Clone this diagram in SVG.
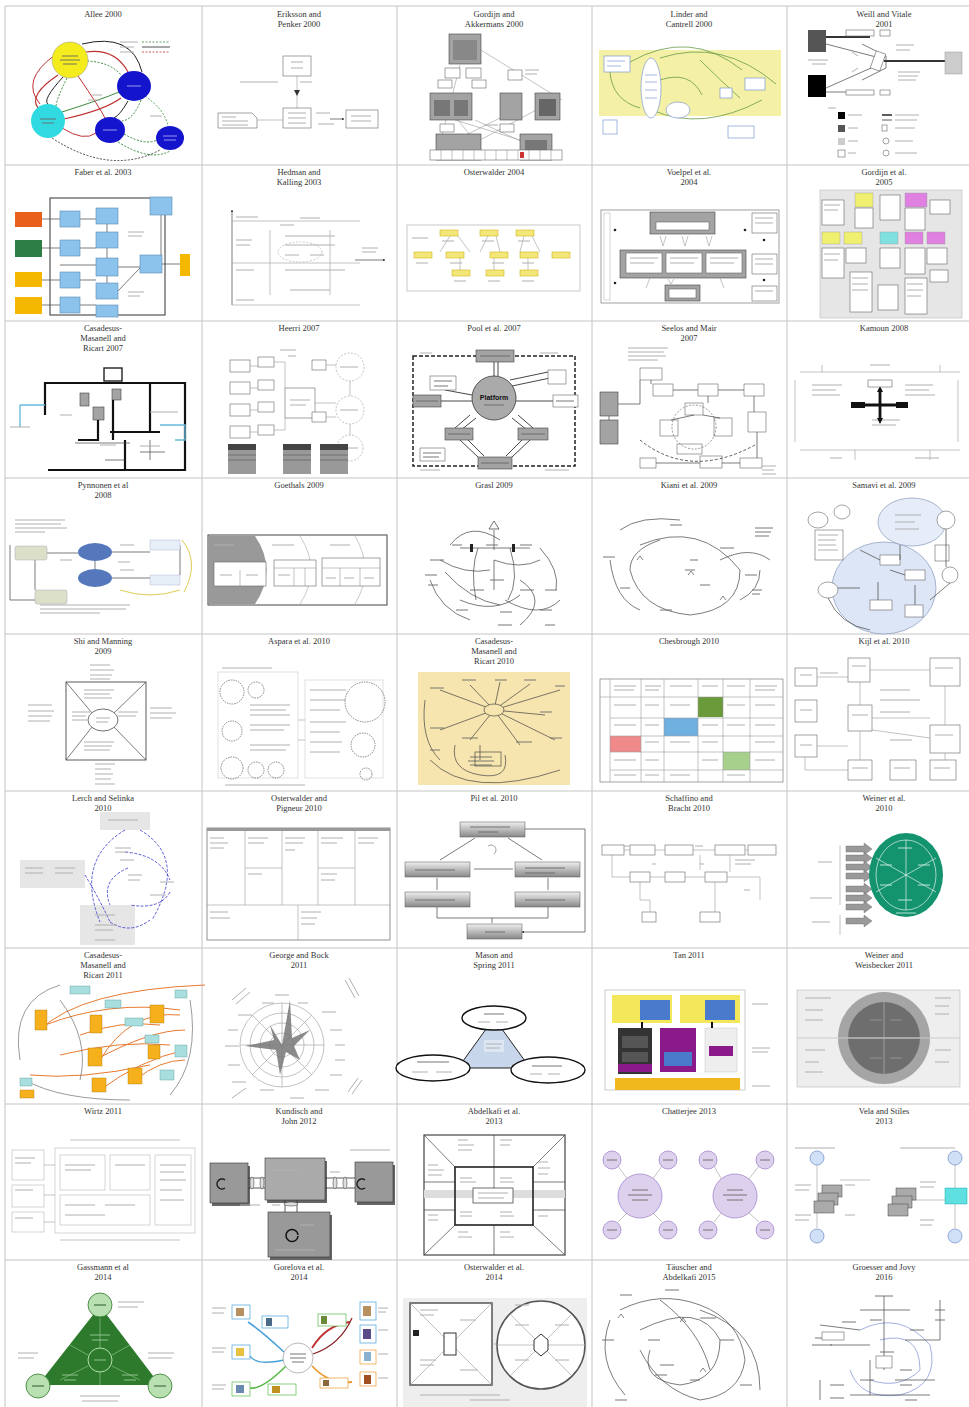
<svg xmlns="http://www.w3.org/2000/svg" width="969" height="1407" viewBox="0 0 969 1407">
<style>
.grid{stroke:#c4c4c4;stroke-width:1;fill:none}
.cap{font-family:"Liberation Serif",serif;font-size:8.5px;fill:#333;text-anchor:middle}
.ln{fill:none;stroke:#444;stroke-width:0.7}
.lt{fill:none;stroke:#9a9a9a;stroke-width:0.6}
.tk{fill:none;stroke:#111;stroke-width:2.2}
.bx{fill:#fff;stroke:#666;stroke-width:0.6}
.gb{fill:#a3a3a3;stroke:#444;stroke-width:0.6}
.s{fill:none;stroke:#b0b0b0;stroke-width:1}
.sd{fill:none;stroke:#666;stroke-width:0.9}
.dsh{stroke-dasharray:2 1.5}
</style>
<defs>
<marker id="a" markerWidth="4" markerHeight="4" refX="3.5" refY="2" orient="auto"><path d="M0 0 L4 2 L0 4z" fill="#333"/></marker>
<linearGradient id="gg" x1="0" y1="0" x2="0" y2="1"><stop offset="0" stop-color="#eee"/><stop offset="1" stop-color="#888"/></linearGradient>
</defs>
<rect width="969" height="1407" fill="#fff"/>

<g id="grid">
<path class="grid" d="M5 6 H969 M5 165 H969 M5 321 H969 M5 478 H969 M5 634 H969 M5 791 H969 M5 948 H969 M5 1104 H969 M5 1260 H969 M5 6 V1407 M202 6 V1407 M397 6 V1407 M592 6 V1407 M787 6 V1407"/>
</g>

<g id="captions">
<text class="cap" x="103" y="17">Allee 2000</text>
<text class="cap" x="299" y="17">Eriksson and</text><text class="cap" x="299" y="27">Penker 2000</text>
<text class="cap" x="494" y="17">Gordijn and</text><text class="cap" x="494" y="27">Akkermans 2000</text>
<text class="cap" x="689" y="17">Linder and</text><text class="cap" x="689" y="27">Cantrell 2000</text>
<text class="cap" x="884" y="17">Weill and Vitale</text><text class="cap" x="884" y="27">2001</text>

<text class="cap" x="103" y="175">Faber et al. 2003</text>
<text class="cap" x="299" y="175">Hedman and</text><text class="cap" x="299" y="185">Kalling 2003</text>
<text class="cap" x="494" y="175">Osterwalder 2004</text>
<text class="cap" x="689" y="175">Voelpel et al.</text><text class="cap" x="689" y="185">2004</text>
<text class="cap" x="884" y="175">Gordijn et al.</text><text class="cap" x="884" y="185">2005</text>

<text class="cap" x="103" y="331">Casadesus-</text><text class="cap" x="103" y="341">Masanell and</text><text class="cap" x="103" y="351">Ricart 2007</text>
<text class="cap" x="299" y="331">Heerri 2007</text>
<text class="cap" x="494" y="331">Pool et al. 2007</text>
<text class="cap" x="689" y="331">Seelos and Mair</text><text class="cap" x="689" y="341">2007</text>
<text class="cap" x="884" y="331">Kamoun 2008</text>

<text class="cap" x="103" y="488">Pynnonen et al</text><text class="cap" x="103" y="498">2008</text>
<text class="cap" x="299" y="488">Goethals 2009</text>
<text class="cap" x="494" y="488">Grasl 2009</text>
<text class="cap" x="689" y="488">Kiani et al. 2009</text>
<text class="cap" x="884" y="488">Samavi et al. 2009</text>

<text class="cap" x="103" y="644">Shi and Manning</text><text class="cap" x="103" y="654">2009</text>
<text class="cap" x="299" y="644">Aspara et al. 2010</text>
<text class="cap" x="494" y="644">Casadesus-</text><text class="cap" x="494" y="654">Masanell and</text><text class="cap" x="494" y="664">Ricart 2010</text>
<text class="cap" x="689" y="644">Chesbrough 2010</text>
<text class="cap" x="884" y="644">Kijl et al. 2010</text>

<text class="cap" x="103" y="801">Lerch and Selinka</text><text class="cap" x="103" y="811">2010</text>
<text class="cap" x="299" y="801">Osterwalder and</text><text class="cap" x="299" y="811">Pigneur 2010</text>
<text class="cap" x="494" y="801">Pil et al. 2010</text>
<text class="cap" x="689" y="801">Schaffino and</text><text class="cap" x="689" y="811">Bracht 2010</text>
<text class="cap" x="884" y="801">Weiner et al.</text><text class="cap" x="884" y="811">2010</text>

<text class="cap" x="103" y="958">Casadesus-</text><text class="cap" x="103" y="968">Masanell and</text><text class="cap" x="103" y="978">Ricart 2011</text>
<text class="cap" x="299" y="958">George and Bock</text><text class="cap" x="299" y="968">2011</text>
<text class="cap" x="494" y="958">Mason and</text><text class="cap" x="494" y="968">Spring 2011</text>
<text class="cap" x="689" y="958">Tan 2011</text>
<text class="cap" x="884" y="958">Weiner and</text><text class="cap" x="884" y="968">Weisbecker 2011</text>

<text class="cap" x="103" y="1114">Wirtz 2011</text>
<text class="cap" x="299" y="1114">Kundisch and</text><text class="cap" x="299" y="1124">John 2012</text>
<text class="cap" x="494" y="1114">Abdelkafi et al.</text><text class="cap" x="494" y="1124">2013</text>
<text class="cap" x="689" y="1114">Chatterjee 2013</text>
<text class="cap" x="884" y="1114">Vela and Stiles</text><text class="cap" x="884" y="1124">2013</text>

<text class="cap" x="103" y="1270">Gassmann et al</text><text class="cap" x="103" y="1280">2014</text>
<text class="cap" x="299" y="1270">Gorelova et al.</text><text class="cap" x="299" y="1280">2014</text>
<text class="cap" x="494" y="1270">Osterwalder et al.</text><text class="cap" x="494" y="1280">2014</text>
<text class="cap" x="689" y="1270">Täuscher and</text><text class="cap" x="689" y="1280">Abdelkafi 2015</text>
<text class="cap" x="884" y="1270">Groesser and Jovy</text><text class="cap" x="884" y="1280">2016</text>
</g>

<!-- Row 0 -->
<g id="allee">
<path d="M58 75 Q28 95 38 108" fill="none" stroke="#c03030" stroke-width="1.2"/>
<path d="M63 77 Q42 100 48 104" fill="none" stroke="#222" stroke-width="1"/>
<path d="M67 78 Q57 98 56 106" fill="none" stroke="#3a8a3a" stroke-width="1" class="dsh"/>
<path d="M86 52 Q115 48 128 72" fill="none" stroke="#c03030" stroke-width="1.2"/>
<path d="M87 61 Q110 62 121 75" fill="none" stroke="#3a8a3a" stroke-width="1" class="dsh"/>
<path d="M82 44 Q132 32 142 72" fill="none" stroke="#222" stroke-width="1"/>
<path d="M62 112 Q100 100 119 92" fill="none" stroke="#3a8a3a" stroke-width="1"/>
<path d="M64 119 Q105 110 121 98" fill="none" stroke="#c03030" stroke-width="1.2"/>
<path d="M62 128 Q84 142 96 133" fill="none" stroke="#c03030" stroke-width="1"/>
<path d="M128 101 Q120 115 114 118" fill="none" stroke="#222" stroke-width="1"/>
<path d="M141 100 Q133 120 122 121" fill="none" stroke="#3a8a3a" stroke-width="1" class="dsh"/>
<path d="M124 134 Q145 146 157 140" fill="none" stroke="#3a8a3a" stroke-width="1" class="dsh"/>
<path d="M118 142 Q150 162 170 151" fill="none" stroke="#3a8a3a" stroke-width="1" class="dsh"/>
<path d="M78 76 Q100 108 105 118" fill="none" stroke="#c03030" stroke-width="1"/>
<path d="M52 138 Q110 176 160 150" fill="none" stroke="#222" stroke-width="0.8" class="dsh"/>
<path d="M145 96 Q165 110 168 126" fill="none" stroke="#3a8a3a" stroke-width="0.8" class="dsh"/>
<path d="M40 104 Q20 80 55 55" fill="none" stroke="#c03030" stroke-width="1"/>
<path class="s" d="M120 42 h18 M120 47 h14 M120 52 h14 M92 95 h10 M88 100 h12 M150 116 h12"/>
<path d="M142 42 h28" stroke="#3a8a3a" stroke-width="0.8" class="dsh"/>
<path d="M142 47 h28" stroke="#222" stroke-width="0.8"/>
<path d="M142 52 h28" stroke="#c03030" stroke-width="0.8" class="dsh"/>
<circle cx="70" cy="60" r="18" fill="#f4ec1c" stroke="#999" stroke-width="0.5"/>
<ellipse cx="134" cy="86" rx="17" ry="15" fill="#1414cc"/>
<circle cx="48" cy="121" r="17" fill="#30dae0"/>
<ellipse cx="110" cy="130" rx="15" ry="13" fill="#1414cc"/>
<ellipse cx="170" cy="138" rx="14" ry="12" fill="#1414cc"/>
<path class="sd" d="M62 56 h16 M60 60 h20 M63 64 h14 M40 119 h16 M42 123 h12"/>
<path d="M127 86 h14 M103 130 h14 M163 136 h14 M164 140 h12" stroke="#9999ee" stroke-width="1"/>
</g>

<g id="eriksson">
<rect class="bx" x="283" y="56" width="28" height="20"/>
<path class="s" d="M291 62 h12 M291 68 h12"/>
<path class="lt" d="M297 76 V108"/>
<path class="s" d="M240 82 h38 M300 82 h12"/>
<path d="M294 90 l3 6 l3 -6z" fill="#333"/>
<rect class="bx" x="283" y="108" width="28" height="20"/>
<path class="s" d="M288 113 h18 M288 118 h18 M288 123 h18"/>
<path class="bx" d="M218 113 H252 L257 118 V128 H218 Z"/>
<path class="s" d="M222 117 h14 M222 121 h26 M222 125 h26"/>
<path class="lt" d="M257 120 H283"/>
<rect class="bx" x="346" y="110" width="32" height="18"/>
<path class="s" d="M351 116 h20 M351 121 h20"/>
<path class="ln" d="M330 119 H344" marker-end="url(#a)"/>
<path class="s" d="M316 113 h14 M318 124 h16"/>
</g>

<g id="gordijn2000">
<path class="lt" d="M481 50 L562 100 M460 65 L442 135 M475 120 L540 150 M458 120 L470 135 M540 108 L480 140 M455 120 L520 140 M520 108 L460 138"/>
<rect class="gb" x="449" y="34" width="32" height="30"/>
<rect x="453" y="40" width="24" height="20" fill="#888"/>
<rect class="bx" x="445" y="68" width="15" height="10" stroke="#4a4"/>
<rect class="bx" x="466" y="68" width="15" height="10" stroke="#4a4"/>
<rect class="bx" x="438" y="80" width="14" height="8" stroke="#4a4"/>
<rect class="bx" x="472" y="80" width="14" height="8" stroke="#4a4"/>
<rect class="bx" x="508" y="70" width="14" height="10" stroke="#4a4"/>
<rect class="gb" x="430" y="93" width="42" height="27"/>
<rect x="434" y="100" width="16" height="16" fill="#777"/><rect x="454" y="100" width="14" height="16" fill="#777"/>
<rect class="gb" x="500" y="93" width="22" height="27" fill="#ddd"/>
<rect class="gb" x="535" y="93" width="25" height="27"/>
<rect x="539" y="99" width="17" height="17" fill="#666"/>
<rect class="bx" x="500" y="124" width="14" height="8" stroke="#4a4"/>
<rect class="bx" x="440" y="124" width="14" height="8" stroke="#4a4"/>
<rect class="gb" x="436" y="134" width="45" height="26"/>
<rect class="gb" x="520" y="134" width="32" height="26"/>
<rect x="525" y="140" width="22" height="16" fill="#777"/>
<rect class="bx" x="430" y="150" width="132" height="10"/>
<path class="lt" d="M441 150 V160 M452 150 V160 M463 150 V160 M474 150 V160 M485 150 V160 M496 150 V160 M507 150 V160 M518 150 V160 M529 150 V160 M540 150 V160 M551 150 V160"/>
<rect x="520" y="152" width="4" height="6" fill="#c33"/>
<path class="s" d="M525 70 h14 M525 74 h12 M484 125 h14"/>
</g>

<g id="linder">
<rect x="599" y="50" width="182" height="66" fill="#f4f0a6"/>
<path d="M630 62 Q690 28 742 70 M660 58 Q722 38 776 84 M652 110 Q702 132 762 100 M660 80 Q690 70 702 95 M610 72 Q612 100 640 108 M700 60 Q720 80 740 98" fill="none" stroke="#6a9a4a" stroke-width="0.8"/>
<rect x="604" y="56" width="26" height="16" fill="#fff" stroke="#6a8ad0" stroke-width="0.6"/>
<ellipse cx="651" cy="88" rx="10" ry="30" fill="#fff" stroke="#6a8ad0" stroke-width="0.6"/>
<ellipse cx="678" cy="110" rx="12" ry="8" fill="#fff" stroke="#6a8ad0" stroke-width="0.6"/>
<rect x="720" y="88" width="12" height="10" fill="#fff" stroke="#6a8ad0" stroke-width="0.6"/>
<rect x="745" y="78" width="20" height="12" fill="#fff" stroke="#6a8ad0" stroke-width="0.6"/>
<rect x="728" y="126" width="26" height="12" fill="#fff" stroke="#6a8ad0" stroke-width="0.6"/>
<rect x="603" y="120" width="14" height="14" fill="#fff" stroke="#6a8ad0" stroke-width="0.6"/>
<path d="M645 75 h12 M645 82 h12 M645 90 h12 M645 98 h12 M607 61 h18 M607 66 h14" stroke="#8aa6dc" stroke-width="0.8"/>
</g>

<g id="weill">
<path d="M826 37 H870" stroke="#333" stroke-width="2"/>
<path class="ln" d="M826 44 L880 58 M826 88 L880 64 M826 92 H870"/>
<path d="M884 61 H945" stroke="#333" stroke-width="2.2"/>
<path class="ln" d="M862 44 L886 56 L886 68 L862 80"/>
<rect class="bx" x="873" y="52" width="10" height="18" transform="rotate(20 878 61)"/>
<rect class="bx" x="846" y="30" width="28" height="6"/><rect class="bx" x="880" y="30" width="10" height="6"/>
<rect class="bx" x="846" y="90" width="28" height="5"/><rect class="bx" x="880" y="90" width="10" height="5"/>
<rect x="808" y="30" width="18" height="22" fill="#555"/>
<rect x="808" y="75" width="18" height="22" fill="#000"/>
<rect x="945" y="52" width="17" height="22" fill="#ccc" stroke="#999" stroke-width="0.5"/>
<path class="s" d="M808 60 h20 M812 64 h14 M896 45 h18 M896 50 h14 M898 72 h22 M898 76 h20 M898 80 h18 M852 52 l6 4 M852 72 l6 -4"/>
<path class="s" d="M828 108 h8"/>
<rect x="838" y="112" width="7" height="7" fill="#000"/>
<rect x="838" y="125" width="7" height="7" fill="#555"/>
<rect x="838" y="138" width="7" height="7" fill="#ccc"/>
<rect class="bx" x="838" y="150" width="7" height="7"/>
<path class="s" d="M848 115 h14 M848 128 h10 M848 141 h10 M848 153 h8"/>
<path d="M882 115 h10" stroke="#333" stroke-width="1.6"/><path d="M882 120 h10" stroke="#333" stroke-width="0.8"/>
<path class="s" d="M895 115 h24 M895 120 h22 M895 128 h20 M895 141 h18 M895 153 h22"/>
<rect class="bx" x="882" y="125" width="5" height="6"/><circle class="bx" cx="886" cy="141" r="3"/><circle class="bx" cx="886" cy="153" r="3"/>
</g>

<!-- Row 1 -->
<g id="faber">
<rect x="50" y="198" width="115" height="117" fill="none" stroke="#333" stroke-width="1"/>
<path class="ln" d="M42 219 H60 M42 248 H60 M42 280 H60 M42 305 H60 M80 219 H96 M80 248 H96 M80 280 H96 M80 305 H96 M107 224 V232 M107 248 V258 M107 276 V283 M118 267 H140 M118 291 L140 268 M162 264 H180 M161 215 V255 M60 265 H96"/>
<rect x="15" y="212" width="27" height="15" fill="#e8601c"/>
<rect x="15" y="240" width="27" height="17" fill="#2d7d46"/>
<rect x="15" y="272" width="27" height="15" fill="#f5b800"/>
<rect x="15" y="297" width="27" height="17" fill="#f5b800"/>
<g fill="#8cc3ec" stroke="#5a8ab0" stroke-width="0.6">
<rect x="60" y="211" width="20" height="16"/><rect x="60" y="240" width="20" height="16"/><rect x="60" y="272" width="20" height="16"/><rect x="60" y="297" width="20" height="16"/>
<rect x="96" y="208" width="22" height="16"/><rect x="96" y="232" width="22" height="16"/><rect x="96" y="258" width="22" height="18"/><rect x="96" y="283" width="22" height="16"/><rect x="96" y="305" width="22" height="12"/>
<rect x="140" y="255" width="22" height="18"/><rect x="150" y="197" width="22" height="18"/>
</g>
<rect x="180" y="254" width="10" height="22" fill="#f5b800"/>
<path class="s" d="M128 232 h16 M128 236 h14 M128 292 h16 M128 296 h12"/>
</g>

<g id="hedman">
<path class="ln" d="M232 305 V210" marker-end="url(#a)"/>
<path class="lt" d="M232 221 H360 M232 263 H360 M232 305 H360 M270 230 V295 M330 230 V295"/>
<path class="s" d="M236 217 h22 M236 240 h16 M236 245 h14 M236 270 h18 M236 300 h18 M280 225 h14 M300 218 h20 M285 236 h50 M285 245 h50 M285 255 h14 M310 255 h14 M285 270 h60 M290 290 h40"/>
<ellipse cx="300" cy="252" rx="22" ry="10" fill="none" stroke="#aaa" stroke-width="0.6" class="dsh"/>
<path class="ln" d="M355 260 H385" marker-end="url(#a)"/>
<path class="s" d="M362 248 h16 M362 252 h14"/>
</g>

<g id="osterwalder2004">
<rect x="407" y="225" width="173" height="66" fill="none" stroke="#bbb" stroke-width="0.8"/>
<path class="lt" d="M440 252 L450 236 M470 252 L458 236 M480 252 L488 236 M500 252 L496 236 M520 252 L524 236 M540 252 L532 236 M460 258 V270 M494 258 V270 M528 258 V270"/>
<g fill="#f3e77a" stroke="#c9a800" stroke-width="0.5">
<rect x="440" y="230" width="18" height="6"/><rect x="480" y="230" width="18" height="6"/><rect x="516" y="230" width="18" height="6"/>
<rect x="414" y="252" width="18" height="6"/><rect x="446" y="252" width="18" height="6"/><rect x="490" y="252" width="18" height="6"/><rect x="520" y="252" width="18" height="6"/><rect x="552" y="252" width="18" height="6"/>
<rect x="452" y="270" width="18" height="6"/><rect x="486" y="270" width="18" height="6"/><rect x="520" y="270" width="18" height="6"/>
</g>
<path class="s" d="M442 241 h12 M482 241 h12 M518 241 h12 M416 263 h12 M450 263 h12 M492 263 h12 M522 263 h12 M454 281 h12 M488 281 h12 M522 281 h12 M412 238 h16"/>
</g>

<g id="voelpel">
<rect x="601" y="210" width="178" height="93" fill="none" stroke="#888" stroke-width="0.8"/>
<rect x="604" y="213" width="6" height="87" fill="none" stroke="#aaa" stroke-width="0.5"/>
<rect class="gb" x="650" y="212" width="65" height="22"/>
<rect class="bx" x="656" y="222" width="53" height="8"/>
<rect class="gb" x="620" y="250" width="126" height="28"/>
<rect class="bx" x="626" y="253" width="36" height="20"/><rect class="bx" x="666" y="253" width="36" height="20"/><rect class="bx" x="706" y="253" width="36" height="20"/>
<rect class="gb" x="665" y="285" width="35" height="16"/><rect class="bx" x="669" y="289" width="27" height="9"/>
<rect class="bx" x="752" y="213" width="25" height="20"/><rect class="bx" x="752" y="254" width="25" height="20"/><rect class="bx" x="752" y="286" width="25" height="15"/>
<path class="lt" d="M660 236 l3 10 l3 -10 M682 236 l3 10 l3 -10 M706 236 l3 10 l3 -10 M668 279 l3 5 l3 -5 M650 278 l-4 10 M720 278 l4 10"/>
<circle cx="615" cy="230" r="1.3" fill="#222"/><circle cx="615" cy="283" r="1.3" fill="#222"/><circle cx="745" cy="230" r="1.3" fill="#222"/><circle cx="764" cy="240" r="1.3" fill="#222"/><circle cx="764" cy="280" r="1.3" fill="#222"/>
<path class="s" d="M630 258 h28 M630 263 h24 M670 258 h28 M670 263 h24 M710 258 h28 M710 263 h24 M755 218 h18 M755 223 h18 M755 259 h18 M755 264 h18 M755 291 h18"/>
</g>

<g id="gordijn2005">
<rect x="820" y="190" width="142" height="128" fill="#e6e6e6" stroke="#bbb" stroke-width="0.6"/>
<rect x="855" y="193" width="18" height="14" fill="#f0f070" stroke="#999" stroke-width="0.4"/>
<rect x="905" y="193" width="22" height="14" fill="#e080e0" stroke="#999" stroke-width="0.4"/>
<rect x="822" y="232" width="18" height="12" fill="#f0f070" stroke="#999" stroke-width="0.4"/>
<rect x="844" y="232" width="18" height="12" fill="#f0f070" stroke="#999" stroke-width="0.4"/>
<rect x="880" y="232" width="18" height="12" fill="#80e0e0" stroke="#999" stroke-width="0.4"/>
<rect x="905" y="232" width="18" height="12" fill="#e080e0" stroke="#999" stroke-width="0.4"/>
<rect x="927" y="232" width="18" height="12" fill="#e080e0" stroke="#999" stroke-width="0.4"/>
<g class="bx"><rect x="822" y="200" width="22" height="25"/><rect x="855" y="208" width="18" height="20"/><rect x="880" y="195" width="20" height="25"/><rect x="905" y="208" width="20" height="22"/><rect x="930" y="200" width="20" height="14"/>
<rect x="822" y="248" width="22" height="30"/><rect x="846" y="248" width="20" height="15"/><rect x="880" y="248" width="20" height="20"/><rect x="905" y="248" width="20" height="26"/><rect x="927" y="248" width="20" height="16"/>
<rect x="850" y="272" width="22" height="40"/><rect x="905" y="278" width="22" height="36"/><rect x="878" y="285" width="20" height="25"/><rect x="930" y="270" width="18" height="12"/></g>
<path class="s" d="M824 205 h16 M824 210 h14 M824 254 h16 M824 260 h14 M852 278 h16 M852 284 h16 M852 290 h16 M907 284 h16 M907 290 h16 M907 296 h14"/>
</g>

<!-- Row 2 -->
<g id="casadesus2007">
<path class="tk" d="M45 415 V383 H185 V470 H48"/>
<path d="M20 405 H45 M20 405 V427 M160 425 H185 V440 H175" fill="none" stroke="#66bbdd" stroke-width="1.4"/>
<rect x="104" y="368" width="18" height="13" fill="#fff" stroke="#222" stroke-width="1.4"/>
<rect class="gb" x="80" y="393" width="9" height="13"/>
<rect class="gb" x="112" y="389" width="9" height="11"/>
<rect class="gb" x="93" y="407" width="11" height="13"/>
<path class="tk" d="M150 383 V432 M110 432 H160 M125 440 V470 M98 420 V440 H78 M113 400 V440" stroke-width="1.6"/>
<path class="ln" d="M75 443 H130 M140 452 H165 M150 440 V460 M105 460 H125"/>
<path class="s" d="M10 427 h20 M60 415 h12 M100 445 h16 M140 446 h20 M150 412 h28"/>
</g>

<g id="heerri">
<g class="bx"><rect x="230" y="360" width="20" height="12"/><rect x="230" y="382" width="20" height="12"/><rect x="230" y="404" width="20" height="12"/><rect x="230" y="426" width="20" height="12"/>
<rect x="258" y="357" width="16" height="10"/><rect x="258" y="380" width="16" height="10"/><rect x="258" y="402" width="16" height="10"/><rect x="258" y="425" width="16" height="10"/>
<rect x="285" y="388" width="30" height="30"/><rect x="312" y="360" width="14" height="10"/><rect x="312" y="412" width="14" height="10"/></g>
<path class="lt" d="M250 366 H258 M250 388 H258 M250 410 H258 M250 432 H258 M274 362 H285 V388 M274 430 H285 V418 M315 403 H336 M326 365 H336 M326 417 H336 M350 381 V396 M350 424 V435"/>
<circle cx="350" cy="367" r="14" fill="none" stroke="#999" stroke-width="0.6" class="dsh"/>
<circle cx="350" cy="410" r="14" fill="none" stroke="#999" stroke-width="0.6" class="dsh"/>
<circle cx="350" cy="448" r="13" fill="none" stroke="#999" stroke-width="0.6" class="dsh"/>
<path class="s" d="M280 350 h16 M288 356 h8 M290 400 h20 M290 405 h16 M340 367 h18 M340 410 h18 M340 448 h18"/>
<g fill="#999"><rect x="228" y="444" width="28" height="30"/><rect x="283" y="444" width="28" height="30"/><rect x="320" y="444" width="28" height="30"/></g>
<g fill="#444"><rect x="228" y="444" width="28" height="6"/><rect x="283" y="444" width="28" height="6"/><rect x="320" y="444" width="28" height="6"/></g>
<path d="M228 455 h28 M228 460 h28 M283 455 h28 M283 460 h28 M320 455 h28 M320 460 h28" stroke="#666" stroke-width="0.8"/>
</g>

<g id="pool">
<rect x="413" y="356" width="162" height="110" fill="none" stroke="#222" stroke-width="1.5" stroke-dasharray="4 2"/>
<path d="M470 415 L455 428 M476 418 L461 430 M518 415 L533 428 M512 418 L527 430 M460 440 L478 457 M466 438 L484 456 M530 440 L512 457 M524 438 L506 456 M510 380 L548 372 M512 386 L550 378 M441 401 H472 M516 401 H553 M494 362 V376 M498 362 V376 M445 390 L472 395" fill="none" stroke="#333" stroke-width="0.9"/>
<circle cx="494" cy="398" r="22" fill="#aaa" stroke="#333" stroke-width="0.8"/>
<text x="494" y="400" font-family="Liberation Sans,sans-serif" font-size="7" font-weight="bold" text-anchor="middle" fill="#111">Platform</text>
<path class="sd" d="M484 405 h20"/>
<rect class="gb" x="476" y="350" width="38" height="12" fill="#bbb"/>
<rect class="gb" x="413" y="395" width="28" height="12" fill="#bbb"/>
<rect class="bx" x="553" y="395" width="25" height="12"/>
<rect class="bx" x="548" y="370" width="18" height="14"/>
<rect class="bx" x="430" y="376" width="26" height="14"/>
<rect class="gb" x="445" y="428" width="28" height="12" fill="#bbb"/>
<rect class="gb" x="518" y="428" width="30" height="12" fill="#bbb"/>
<rect class="gb" x="478" y="457" width="34" height="12" fill="#bbb"/>
<rect class="bx" x="420" y="448" width="25" height="13"/>
<path class="sd" d="M480 356 h30 M416 401 h22 M556 401 h18 M448 434 h22 M521 434 h24 M481 463 h28 M434 381 h18 M434 386 h14 M423 453 h18 M423 457 h16"/>
<path class="s" d="M420 353 h12 M540 353 h18 M420 470 h20 M545 470 h24"/>
</g>

<g id="seelos">
<path class="s" d="M628 348 h40 M628 352 h36 M628 356 h38 M628 360 h30"/>
<g class="bx"><rect x="640" y="368" width="22" height="12"/><rect x="653" y="384" width="20" height="12"/><rect x="698" y="384" width="20" height="12"/><rect x="744" y="384" width="20" height="12"/>
<rect x="685" y="403" width="18" height="12"/><rect x="660" y="420" width="18" height="16"/><rect x="714" y="418" width="18" height="18"/><rect x="748" y="412" width="18" height="20"/>
<rect x="677" y="444" width="25" height="10"/><rect x="640" y="458" width="16" height="10"/><rect x="700" y="456" width="22" height="12"/><rect x="740" y="458" width="22" height="10"/></g>
<rect class="gb" x="600" y="392" width="18" height="24"/>
<rect class="gb" x="600" y="420" width="18" height="24"/>
<path class="ln" d="M618 404 H640 V380 M651 380 V384 M673 390 H698 M718 390 H744 M708 396 V403 M694 415 L671 420 M703 415 L720 418 M754 396 V412 M757 432 V458 M609 420 V416 M656 463 H700 M722 463 H740"/>
<circle cx="694" cy="427" r="22" fill="none" stroke="#555" stroke-width="0.6" class="dsh"/>
<path d="M640 440 Q690 480 755 445" fill="none" stroke="#333" stroke-width="0.8" stroke-dasharray="3 2"/>
<path class="s" d="M762 466 h14 M762 470 h12 M762 474 h14"/>
</g>

<g id="kamoun">
<path class="lt" d="M795 380 V442 M800 372 H960 M800 450 H960 M822 365 V372 M940 365 V372 M855 450 V460 M930 450 V460 M958 380 V442"/>
<path class="s" d="M812 385 h30 M812 390 h24 M812 395 h28 M905 385 h28 M905 390 h24 M905 395 h30 M870 365 h20 M830 458 h12 M915 458 h24 M872 420 h28 M872 425 h24"/>
<path d="M864 405 H898 M880 392 V420" stroke="#111" stroke-width="2.8"/>
<path d="M880 386 l-3 6 h6z M880 424 l-3 -6 h6z" fill="#111"/>
<rect class="bx" x="868" y="380" width="24" height="7"/>
<rect x="851" y="402" width="14" height="6" fill="#111"/><rect x="896" y="402" width="12" height="6" fill="#111"/>
</g>

<!-- Row 3 -->
<g id="pynnonen">
<path class="s" d="M15 520 h50 M15 524 h46 M15 528 h52 M15 532 h30 M40 605 h90 M40 609 h86 M40 613 h60"/>
<path class="ln" d="M47 553 H78 M112 552 H150 M112 578 H150 M95 561 V569 M35 560 V590 M10 545 V600 H35 M180 545 V575"/>
<rect x="15" y="546" width="32" height="14" rx="2" fill="#dde0c8" stroke="#aab" stroke-width="0.5"/>
<rect x="35" y="590" width="32" height="14" rx="2" fill="#dde0c8" stroke="#aab" stroke-width="0.5"/>
<ellipse cx="95" cy="552" rx="17" ry="9" fill="#5577bb"/>
<ellipse cx="95" cy="578" rx="17" ry="9" fill="#5577bb"/>
<rect x="150" y="540" width="30" height="10" fill="#e6eef8" stroke="#aac" stroke-width="0.4"/>
<rect x="150" y="575" width="30" height="10" fill="#e6eef8" stroke="#aac" stroke-width="0.4"/>
<path d="M182 540 Q200 562 184 592 M120 590 Q150 600 180 590" fill="none" stroke="#ddcc55" stroke-width="1"/>
<path class="s" d="M120 545 h14 M120 570 h14 M60 560 h12 M118 562 h12"/>
</g>

<g id="goethals">
<rect x="208" y="535" width="179" height="70" fill="#fff" stroke="#444" stroke-width="1"/>
<path d="M208 536 H255 Q278 570 255 604 H208 Z" fill="#999"/>
<path d="M300 536 Q322 570 300 604 M355 536 Q375 570 355 604" fill="none" stroke="#bbb" stroke-width="0.8"/>
<g class="bx"><rect x="214" y="562" width="52" height="24"/><rect x="274" y="560" width="42" height="26"/><rect x="322" y="558" width="58" height="28"/></g>
<path class="lt" d="M240 570 V586 M274 568 H316 M294 568 V586 M305 568 V586 M322 568 H380 M340 568 V586 M360 568 V586"/>
<path class="s" d="M214 545 h20 M272 545 h22 M330 545 h20 M220 575 h12 M246 575 h12 M278 575 h12 M326 578 h10 M344 578 h10 M364 578 h10"/>
</g>

<g id="grasl">
<path d="M494 521 l-5 8 h10z" fill="none" stroke="#333" stroke-width="0.7"/>
<path class="ln" d="M494 530 V550 M460 548 H530 M478 548 Q470 570 476 600 M510 548 Q520 580 508 600 M494 560 V590 M440 560 Q465 575 490 570 M445 572 Q470 600 500 605 M430 580 Q440 610 470 620 M520 580 Q550 600 520 625 M505 600 Q540 620 560 600 M460 600 Q495 615 520 595 M540 548 Q560 570 556 590 M500 540 Q470 520 450 545 M494 560 Q520 570 540 560"/>
<path class="sd" d="M452 545 h10 M486 545 h12 M520 545 h12 M430 560 h14 M425 575 h12 M428 585 h10 M490 580 h14 M470 590 h14 M520 590 h14 M545 590 h12 M456 610 h12 M500 612 h12 M540 610 h12 M498 625 h14 M545 625 h10"/>
<rect x="470" y="544" width="3" height="8" fill="#222"/><rect x="512" y="544" width="3" height="8" fill="#222"/>
</g>

<g id="kiani">
<path class="ln" d="M640 545 Q700 520 740 570 Q740 610 690 615 Q640 610 630 570 Q630 550 660 540 M620 530 Q640 515 680 520 M610 560 Q615 600 640 610 M720 560 Q750 545 770 560 M740 600 Q760 590 760 570"/>
<path class="sd" d="M603 557 h12 M670 525 h12 M690 560 h8 M685 570 h10 M620 588 h10 M660 610 h12 M720 548 h14 M755 528 h18 M755 532 h16 M755 536 h14 M745 575 h12 M752 590 h10 M752 594 h8 M700 585 h10"/>
<path d="M637 560 l3 -4 l3 4 M688 575 l3 -4 l3 4 M720 600 l3 -4 l3 4" fill="none" stroke="#333" stroke-width="0.6"/>
</g>

<g id="samavi">
<ellipse cx="884" cy="588" rx="52" ry="46" fill="#dde6f6" stroke="#8899bb" stroke-width="0.7"/>
<ellipse cx="912" cy="522" rx="34" ry="24" fill="#e6ecf8" stroke="#8899bb" stroke-width="0.7"/>
<g class="bx"><ellipse cx="818" cy="520" rx="10" ry="8"/><ellipse cx="842" cy="512" rx="8" ry="7"/><circle cx="946" cy="520" r="9"/><ellipse cx="828" cy="590" rx="10" ry="8"/><circle cx="950" cy="575" r="8"/><rect x="815" y="530" width="28" height="30"/><rect x="880" y="555" width="20" height="10"/><rect x="905" y="570" width="20" height="10"/><rect x="870" y="600" width="22" height="10"/><rect x="905" y="605" width="18" height="12"/><rect x="935" y="545" width="14" height="16"/></g>
<path class="ln" d="M838 588 H860 M828 598 Q840 625 870 630 M946 529 V567 M900 545 V560 M860 550 L880 560 M890 570 L905 575 M878 582 V600 M915 585 V605 M930 600 L950 583"/>
<path class="s" d="M818 535 h20 M818 540 h18 M818 545 h18 M818 550 h20 M895 515 h26 M895 522 h20 M895 529 h24"/>
</g>

<!-- Row 4 -->
<g id="shi">
<rect x="66" y="682" width="80" height="78" fill="none" stroke="#333" stroke-width="0.8"/>
<path class="ln" d="M66 682 L92 713 M146 682 L114 713 M66 760 L92 727 M146 760 L114 727"/>
<ellipse cx="103" cy="720" rx="15" ry="11" fill="#fff" stroke="#333" stroke-width="0.7"/>
<path class="s" d="M90 665 h20 M90 670 h24 M90 675 h22 M90 679 h20 M84 690 h30 M84 694 h26 M84 698 h28 M28 705 h24 M28 711 h26 M28 716 h24 M28 721 h22 M150 708 h22 M150 713 h26 M150 718 h22 M72 712 h18 M72 716 h14 M72 720 h16 M118 712 h20 M118 716 h18 M84 742 h30 M84 746 h28 M84 750 h26 M95 764 h20 M95 769 h16 M95 774 h18 M95 779 h16 M95 784 h20 M96 718 h14 M96 722 h12"/>
</g>

<g id="aspara">
<rect x="218" y="672" width="80" height="106" fill="none" stroke="#ccc" stroke-width="0.6"/>
<rect x="305" y="680" width="78" height="98" fill="none" stroke="#ccc" stroke-width="0.6"/>
<g fill="none" stroke="#555" stroke-width="0.7" stroke-dasharray="1.5 1"><circle cx="232" cy="692" r="12"/><circle cx="256" cy="690" r="8"/><circle cx="232" cy="731" r="10"/><circle cx="232" cy="768" r="11"/><circle cx="256" cy="770" r="8"/><circle cx="276" cy="770" r="8"/><circle cx="365" cy="702" r="20"/><circle cx="363" cy="745" r="12"/><circle cx="366" cy="774" r="6"/></g>
<path class="lt" d="M298 720 H305 M298 740 H305"/>
<path class="s" d="M222 668 h50 M250 705 h40 M250 710 h36 M250 715 h40 M250 725 h40 M250 730 h34 M250 745 h40 M250 750 h36 M310 690 h36 M310 700 h36 M310 710 h30 M310 722 h36 M310 732 h30 M310 742 h32 M310 752 h30 M225 785 h80"/>
</g>

<g id="casadesus2010">
<rect x="418" y="672" width="152" height="113" fill="#f7e5b0"/>
<path class="ln" d="M494 710 L440 690 M494 710 L470 685 M494 710 L500 682 M494 710 L530 684 M494 710 L560 690 M494 710 L545 715 M494 710 L440 730 M494 710 L470 740 M494 710 L520 745 M494 710 L555 740 M455 745 Q450 770 480 775 Q510 780 505 755 M430 760 Q470 800 560 770 M425 700 Q420 740 440 760 M480 745 V760"/>
<ellipse cx="494" cy="710" rx="10" ry="6" fill="#f7e5b0" stroke="#333" stroke-width="0.6"/>
<path class="sd" d="M430 688 h14 M462 680 h14 M495 680 h12 M524 680 h12 M555 686 h10 M430 728 h14 M462 738 h16 M516 742 h16 M550 738 h12 M540 712 h12 M470 757 h22 M468 761 h26 M470 765 h22 M430 750 h10"/>
<rect x="475" y="752" width="26" height="14" fill="none" stroke="#333" stroke-width="0.6"/>
</g>

<g id="chesbrough">
<rect x="600" y="679" width="183" height="103" fill="#fff" stroke="#666" stroke-width="0.6"/>
<rect x="698" y="697" width="25" height="20" fill="#6b9a3a"/>
<rect x="664" y="718" width="34" height="18" fill="#6fb0e0"/>
<rect x="610" y="736" width="31" height="16" fill="#f08a8a"/>
<rect x="723" y="752" width="27" height="18" fill="#a8d08d"/>
<path class="lt" d="M610 679 V782 M641 679 V782 M664 679 V782 M698 679 V782 M723 679 V782 M750 679 V782 M600 697 H783 M610 718 H783 M610 736 H783 M610 752 H783 M610 770 H783"/>
<path class="s" d="M614 686 h22 M614 690 h20 M645 686 h16 M645 690 h14 M670 686 h22 M702 686 h16 M727 686 h18 M755 686 h22 M755 690 h20 M614 705 h22 M645 705 h14 M670 705 h20 M727 705 h18 M755 705 h20 M614 725 h22 M645 725 h14 M702 725 h16 M727 725 h18 M755 725 h20 M645 742 h14 M670 742 h20 M702 742 h16 M755 742 h20 M614 760 h22 M645 760 h14 M702 760 h16 M755 760 h20 M614 775 h22 M645 775 h14 M670 775 h20 M727 775 h18"/>
</g>

<g id="kijl">
<g class="bx"><rect x="795" y="668" width="22" height="18"/><rect x="848" y="658" width="22" height="24"/><rect x="930" y="658" width="30" height="28"/><rect x="795" y="700" width="22" height="22"/><rect x="795" y="735" width="22" height="22"/><rect x="848" y="705" width="24" height="26"/><rect x="930" y="725" width="30" height="28"/><rect x="848" y="760" width="24" height="20"/><rect x="890" y="760" width="26" height="20"/><rect x="930" y="760" width="26" height="20"/></g>
<path class="lt" d="M817 677 H848 M870 670 H930 M872 718 H930 M860 682 V705 M860 731 V760 M945 686 V725 M945 753 V760 M817 746 H848 M805 757 V770 H848 M872 730 L930 738"/>
<path class="s" d="M820 673 h18 M880 690 h30 M880 700 h40 M880 712 h30 M890 740 h22 M800 675 h12 M800 710 h12 M800 745 h12 M852 666 h14 M852 715 h16 M935 668 h18 M935 735 h18 M852 768 h16 M894 768 h16 M934 768 h16"/>
</g>

<!-- Row 5 -->
<g id="lerch">
<rect x="100" y="812" width="50" height="18" fill="#e6e6e6"/>
<rect x="20" y="860" width="65" height="28" fill="#e6e6e6"/>
<rect x="80" y="905" width="55" height="40" fill="#e6e6e6"/>
<path d="M125 830 Q75 860 100 922 M140 830 Q188 858 152 920 M125 852 Q160 855 170 880 M128 868 Q100 880 110 905 M170 892 Q160 910 130 905 M85 875 Q100 900 110 922 M110 922 Q130 935 150 920" fill="none" stroke="#4a4ad0" stroke-width="0.9" stroke-dasharray="3 1.5"/>
<path class="s" d="M108 820 h30 M25 868 h18 M25 873 h18 M55 868 h20 M55 873 h18 M115 848 h16 M115 852 h12 M120 860 h14 M160 882 h14 M128 875 h14 M128 880 h12 M150 895 h16 M95 915 h20 M95 925 h22 M95 930 h18 M95 940 h20"/>
</g>

<g id="osterwalder2010">
<rect x="207" y="828" width="183" height="112" fill="#fff" stroke="#777" stroke-width="0.8"/>
<rect x="207" y="828" width="183" height="3" fill="#999"/>
<path class="lt" d="M245 831 V905 M282 831 V905 M318 831 V905 M355 831 V905 M245 868 H282 M318 868 H355 M207 905 H390 M298 905 V940"/>
<path class="s" d="M210 838 h14 M210 843 h18 M210 848 h14 M248 838 h20 M248 843 h16 M285 838 h20 M285 843 h18 M285 850 h10 M321 838 h22 M321 843 h16 M358 838 h20 M358 843 h16 M248 874 h14 M321 874 h16 M321 880 h14 M210 912 h18 M210 918 h20 M301 912 h20 M301 918 h16 M301 924 h14"/>
</g>

<g id="pil">
<path class="ln" d="M475 838 L440 860 M508 838 L542 860 M474 869 H513 M437 878 V890 M548 878 V890 M437 907 V918 H492 V923 M548 907 V918 H492 M525 829 H585 V932 H522" marker-end="url(#a)"/>
<g fill="url(#gg)" stroke="#555" stroke-width="0.5"><rect x="460" y="822" width="65" height="15"/><rect x="405" y="862" width="65" height="15"/><rect x="515" y="862" width="65" height="15"/><rect x="405" y="892" width="65" height="15"/><rect x="515" y="892" width="65" height="15"/><rect x="467" y="924" width="55" height="15"/></g>
<path d="M488 846 a5 5 0 1 1 6 8" fill="none" stroke="#888" stroke-width="0.8"/>
<path class="sd" d="M470 827 h40 M478 832 h20 M415 870 h40 M525 868 h40 M525 873 h30 M415 900 h40 M525 900 h40 M485 932 h20"/>
</g>

<g id="schaffino">
<g class="bx"><rect x="602" y="845" width="22" height="10"/><rect x="630" y="845" width="25" height="10"/><rect x="665" y="845" width="28" height="10"/><rect x="715" y="845" width="30" height="10"/><rect x="748" y="845" width="28" height="10"/><rect x="630" y="872" width="20" height="10"/><rect x="665" y="872" width="20" height="10"/><rect x="705" y="872" width="22" height="10"/><rect x="642" y="912" width="14" height="10"/><rect x="700" y="912" width="20" height="10"/></g>
<path class="lt" d="M624 850 H630 M655 850 H665 M693 850 H715 M745 850 H748 M612 855 V877 H630 M650 877 H665 M685 877 H705 M640 882 V900 H650 V912 M715 882 V912 M727 877 H760 V900 M700 855 V870 M730 855 V872"/>
<path class="s" d="M624 846 h6 M695 846 h8 M652 864 h4 M700 864 h4 M744 890 h6 M735 860 h20 M735 864 h16"/>
</g>

<g id="weiner2010">
<path class="lt" d="M840 845 V905 M840 915 V935"/>
<g fill="#999" stroke="#666" stroke-width="0.4">
<polygon points="846,846 864,846 864,843 872,849 864,855 864,852 846,852"/>
<polygon points="846,855 864,855 864,852 872,858 864,864 864,861 846,861"/>
<polygon points="846,864 864,864 864,861 872,867 864,873 864,870 846,870"/>
<polygon points="846,873 864,873 864,870 872,876 864,882 864,879 846,879"/>
<polygon points="846,886 864,886 864,883 872,889 864,895 864,892 846,892"/>
<polygon points="846,895 864,895 864,892 872,898 864,904 864,901 846,901"/>
<polygon points="846,904 864,904 864,901 872,907 864,913 864,910 846,910"/>
<polygon points="846,918 864,918 864,915 872,921 864,927 864,924 846,924"/>
</g>
<ellipse cx="906" cy="875" rx="37" ry="42" fill="#14946e"/>
<ellipse cx="906" cy="875" rx="30" ry="35" fill="none" stroke="#fff" stroke-width="0.6"/>
<path d="M906 840 V910 M876 858 L936 892 M876 892 L936 858" stroke="#fff" stroke-width="0.6"/>
<path class="s" d="M818 862 h14 M810 898 h22 M812 922 h18"/>
<path d="M898 848 h14 M880 865 h12 M918 865 h12 M880 885 h12 M918 885 h12 M898 900 h14 M896 913 h20" stroke="#c8eee0" stroke-width="0.9"/>
</g>

<!-- Row 6 -->
<g id="casadesus2011">
<path d="M40 1030 Q80 990 205 985 M45 1025 Q110 1000 180 1010 M100 1060 Q130 1010 180 1015 M95 1060 Q150 1030 185 1030 M60 1055 Q120 1040 170 1045 M100 1090 Q140 1060 185 1050 M135 1080 Q160 1060 185 1060 M30 1075 Q80 1080 150 1065 M80 1035 Q120 1020 160 1025" fill="none" stroke="#e87a30" stroke-width="1"/>
<path d="M20 1060 Q10 1000 60 985 M25 1080 Q60 1100 130 1100 M170 1095 Q200 1060 190 1000 M60 1000 Q90 1040 80 1080" fill="none" stroke="#555" stroke-width="0.6"/>
<g fill="#f5b01c" stroke="#b07a10" stroke-width="0.4"><rect x="35" y="1010" width="12" height="20"/><rect x="90" y="1015" width="12" height="18"/><rect x="88" y="1048" width="14" height="18"/><rect x="150" y="1005" width="14" height="18"/><rect x="148" y="1045" width="12" height="14"/><rect x="92" y="1078" width="14" height="14"/><rect x="128" y="1068" width="14" height="16"/><rect x="20" y="1090" width="14" height="8"/></g>
<g fill="#a8dede" stroke="#5a9a9a" stroke-width="0.4"><rect x="70" y="986" width="20" height="8"/><rect x="105" y="1000" width="16" height="8"/><rect x="125" y="1018" width="18" height="8"/><rect x="145" y="1035" width="14" height="8"/><rect x="175" y="1045" width="12" height="12"/><rect x="20" y="1078" width="12" height="8"/><rect x="175" y="990" width="12" height="8"/><rect x="160" y="1070" width="14" height="10"/></g>
</g>

<g id="george">
<g fill="none" stroke="#999" stroke-width="0.6"><circle cx="282" cy="1045" r="12"/><circle cx="282" cy="1045" r="22"/><circle cx="282" cy="1045" r="32"/><circle cx="282" cy="1045" r="42"/></g>
<path class="lt" d="M282 1003 V1087 M240 1045 H324 M252 1015 L312 1075 M312 1015 L252 1075"/>
<polygon points="282,1045 290,1000 292,1038 310,1030 294,1046 300,1060 286,1052 280,1075 276,1050 245,1046 274,1040 270,1025" fill="#777" opacity="0.85"/>
<path class="s" d="M275 995 h14 M262 1003 h12 M298 1003 h10 M322 1012 h14 M330 1030 h12 M335 1045 h10 M335 1060 h10 M330 1075 h12 M315 1090 h14 M290 1098 h14 M260 1090 h14 M232 1082 h14 M228 1065 h12 M225 1046 h14 M228 1030 h10 M238 1015 h14"/>
<path class="s" d="M232 1000 l14 -12 M236 1004 l14 -12 M345 980 l10 18 M349 978 l10 18 M232 1098 l14 -10 M348 1092 l10 -14 M352 1094 l10 -14"/>
</g>

<g id="mason">
<polygon points="494,1018 530,1068 458,1068" fill="#c8d6ec" stroke="#222" stroke-width="1"/>
<ellipse cx="494" cy="1018" rx="32" ry="12" fill="#fff" stroke="#111" stroke-width="1.4"/>
<ellipse cx="433" cy="1068" rx="37" ry="13" fill="#fff" stroke="#111" stroke-width="1.4"/>
<ellipse cx="548" cy="1070" rx="37" ry="13" fill="#fff" stroke="#111" stroke-width="1.4"/>
<rect x="484" y="1040" width="20" height="12" fill="#dde6f3"/>
<path class="sd" d="M484 1014 h20 M417 1062 h32 M532 1066 h30"/>
<path class="s" d="M478 1022 h12 M496 1022 h12 M412 1072 h16 M436 1072 h16 M530 1074 h12 M548 1074 h12 M486 1044 h16 M486 1048 h14"/>
</g>

<g id="tan">
<rect x="605" y="990" width="140" height="100" fill="none" stroke="#aaa" stroke-width="0.6"/>
<rect x="612" y="995" width="60" height="28" fill="#f2e85a"/><rect x="680" y="995" width="60" height="28" fill="#f2e85a"/>
<rect x="640" y="1000" width="30" height="20" fill="#4a7acc"/><rect x="705" y="1000" width="30" height="20" fill="#4a7acc"/>
<rect x="618" y="1028" width="34" height="46" fill="#333"/>
<rect x="622" y="1036" width="26" height="12" fill="#555"/><rect x="622" y="1052" width="26" height="10" fill="#555"/>
<rect x="618" y="1064" width="34" height="8" fill="#8a1a8a"/>
<rect x="660" y="1028" width="36" height="44" fill="#8a1a8a"/>
<rect x="664" y="1052" width="28" height="14" fill="#4a7acc"/>
<rect x="705" y="1028" width="32" height="44" fill="#eee" stroke="#bbb" stroke-width="0.4"/>
<rect x="709" y="1046" width="24" height="10" fill="#8a1a8a"/>
<rect x="615" y="1078" width="125" height="12" fill="#f0b81c"/>
<path d="M642 1022 V1028 M712 1022 V1028" stroke="#111" stroke-width="2"/>
<path class="s" d="M752 1004 h16 M752 1048 h18 M752 1052 h16 M752 1086 h18"/>
</g>

<g id="weiner2011">
<rect x="797" y="990" width="163" height="97" fill="#eee" stroke="#aaa" stroke-width="0.5"/>
<circle cx="884" cy="1038" r="46" fill="#a5a5a5"/>
<circle cx="884" cy="1038" r="36" fill="#6e6e6e"/>
<path d="M848 1038 H920 M884 1002 V1074" stroke="#aaa" stroke-width="0.8"/>
<path d="M797 1038 H960" stroke="#ccc" stroke-width="1"/>
<path class="s" d="M805 998 h26 M805 1010 h18 M805 1020 h18 M805 1050 h20 M805 1062 h14 M805 1072 h18 M935 998 h16 M935 1006 h14 M935 1014 h14 M935 1050 h16 M935 1062 h14"/>
<path d="M870 1020 h12 M890 1020 h12 M870 1058 h12 M890 1058 h12" stroke="#999" stroke-width="0.8"/>
</g>

<!-- Row 7 -->
<g id="wirtz">
<g fill="none" stroke="#aaa" stroke-width="0.5"><rect x="55" y="1148" width="140" height="85"/><rect x="60" y="1155" width="45" height="35"/><rect x="110" y="1155" width="40" height="35"/><rect x="155" y="1155" width="36" height="70"/><rect x="60" y="1195" width="90" height="30"/><rect x="12" y="1150" width="32" height="30"/><rect x="12" y="1185" width="32" height="22"/><rect x="12" y="1212" width="32" height="20"/><rect x="200" y="1150" width="-2" height="1"/></g>
<path class="lt" d="M44 1165 H55 M44 1195 H55 M44 1222 H55 M60 1240 H180 M70 1140 H180"/>
<path class="s" d="M15 1158 h20 M15 1163 h16 M15 1190 h18 M15 1218 h18 M65 1165 h30 M65 1170 h26 M115 1165 h30 M160 1165 h26 M160 1172 h24 M160 1180 h26 M160 1190 h22 M160 1200 h24 M65 1205 h30 M105 1205 h30 M65 1215 h40"/>
</g>

<g id="kundisch">
<rect x="212" y="1166" width="38" height="40" fill="#666"/>
<rect x="210" y="1163" width="38" height="40" fill="#999" stroke="#333" stroke-width="0.6"/>
<rect x="267" y="1161" width="60" height="42" fill="#666"/>
<rect x="265" y="1158" width="60" height="42" fill="#aaa" stroke="#333" stroke-width="0.6"/>
<rect x="357" y="1165" width="38" height="40" fill="#666"/>
<rect x="355" y="1162" width="38" height="40" fill="#999" stroke="#333" stroke-width="0.6"/>
<rect x="270" y="1215" width="62" height="45" fill="#666"/>
<rect x="268" y="1212" width="62" height="45" fill="#999" stroke="#333" stroke-width="0.6"/>
<path d="M248 1178 H265 M248 1188 H265 M325 1178 H355 M325 1188 H355 M285 1200 V1212 M297 1200 V1212" stroke="#333" stroke-width="0.8"/>
<g fill="#ddd" stroke="#333" stroke-width="0.5"><ellipse cx="252" cy="1183" rx="2" ry="6"/><ellipse cx="262" cy="1183" rx="2" ry="6"/><ellipse cx="335" cy="1183" rx="2" ry="6"/><ellipse cx="345" cy="1183" rx="2" ry="6"/><ellipse cx="291" cy="1204" rx="7" ry="2"/></g>
<path d="M225 1180 a5 5 0 1 0 0 8 M365 1180 a5 5 0 1 0 0 8 M298 1235 a6 6 0 1 0 0 1" fill="none" stroke="#111" stroke-width="1.4"/>
<path class="s" d="M350 1150 h40 M240 1205 h20 M272 1205 h8 M300 1225 h14 M275 1250 h40 M270 1170 h30 M330 1172 h10"/>
</g>

<g id="abdelkafi">
<rect x="424" y="1135" width="141" height="120" fill="#fff" stroke="#444" stroke-width="1.2"/>
<rect x="424" y="1190" width="141" height="8" fill="#ddd"/>
<path class="ln" d="M424 1135 L455 1167 M565 1135 L533 1167 M424 1255 L455 1225 M565 1255 L533 1225 M494 1135 V1167 M494 1225 V1255 M424 1182 H455 M533 1182 H565 M424 1210 H455 M533 1210 H565 M494 1167 V1188"/>
<rect x="455" y="1167" width="78" height="58" fill="none" stroke="#222" stroke-width="1.6"/>
<rect x="473" y="1188" width="40" height="15" fill="#fff" stroke="#333" stroke-width="0.7"/>
<path class="s" d="M458 1140 h10 M458 1145 h16 M458 1150 h14 M500 1140 h12 M500 1145 h10 M428 1165 h10 M428 1170 h16 M428 1175 h14 M538 1162 h10 M538 1168 h12 M538 1174 h10 M460 1178 h12 M460 1182 h16 M500 1178 h12 M500 1182 h14 M478 1193 h30 M478 1198 h26 M460 1212 h12 M460 1216 h12 M500 1212 h12 M500 1216 h14 M428 1215 h10 M428 1220 h10 M538 1210 h12 M538 1216 h10 M458 1232 h10 M458 1237 h14 M500 1232 h10 M500 1237 h14"/>
</g>

<g id="chatterjee">
<path class="lt" d="M618 1166 L628 1180 M662 1166 L652 1180 M618 1222 L628 1212 M662 1222 L652 1212 M714 1166 L722 1180 M759 1166 L748 1180 M714 1222 L722 1212 M759 1222 L748 1212"/>
<g fill="#dcd0ec" stroke="#9a7ac8" stroke-width="0.7"><circle cx="640" cy="1196" r="22"/><circle cx="735" cy="1196" r="22"/><circle cx="612" cy="1160" r="9"/><circle cx="668" cy="1160" r="9"/><circle cx="612" cy="1230" r="9"/><circle cx="668" cy="1230" r="9"/><circle cx="708" cy="1160" r="9"/><circle cx="765" cy="1160" r="9"/><circle cx="708" cy="1230" r="9"/><circle cx="765" cy="1230" r="9"/></g>
<path class="sd" d="M632 1190 h16 M628 1195 h24 M632 1200 h16 M727 1190 h16 M723 1195 h24 M727 1200 h16 M607 1160 h10 M663 1160 h10 M607 1230 h10 M663 1230 h10 M703 1160 h10 M760 1160 h10 M703 1230 h10 M760 1230 h10"/>
</g>

<g id="vela">
<path class="lt" d="M817 1165 V1228 M955 1165 V1228 M840 1180 H870 M900 1200 H945"/>
<g fill="#cfe0f7" stroke="#5a7ac0" stroke-width="0.6"><circle cx="817" cy="1158" r="7"/><circle cx="817" cy="1236" r="7"/><circle cx="955" cy="1158" r="7"/><circle cx="955" cy="1236" r="7"/></g>
<g fill="#aaa" stroke="#444" stroke-width="0.5"><rect x="822" y="1185" width="20" height="12"/><rect x="818" y="1193" width="20" height="12"/><rect x="814" y="1201" width="20" height="12"/><rect x="896" y="1188" width="20" height="12"/><rect x="892" y="1196" width="20" height="12"/><rect x="888" y="1204" width="20" height="12"/></g>
<rect x="945" y="1188" width="22" height="16" fill="#5ee0e0" stroke="#2aa" stroke-width="0.5"/>
<path class="s" d="M795 1148 h40 M900 1148 h55 M795 1185 h16 M795 1190 h14 M845 1185 h10 M795 1215 h16 M795 1220 h14 M845 1215 h10 M920 1182 h16 M920 1187 h14 M920 1220 h14 M920 1225 h12"/>
</g>

<!-- Row 8 -->
<g id="gassmann">
<polygon points="38,1385 160,1385 100,1306" fill="#2d7a2d"/>
<path d="M100 1348 V1318 M100 1372 V1385 M88 1366 L60 1380 M112 1366 L140 1380 M70 1345 L88 1355 M130 1345 L112 1355" stroke="#9ccc9c" stroke-width="0.6"/>
<circle cx="100" cy="1305" r="12" fill="#b8e0b0" stroke="#2d7a2d" stroke-width="0.8"/>
<circle cx="38" cy="1386" r="12" fill="#b8e0b0" stroke="#2d7a2d" stroke-width="0.8"/>
<circle cx="160" cy="1386" r="12" fill="#b8e0b0" stroke="#2d7a2d" stroke-width="0.8"/>
<circle cx="100" cy="1360" r="12" fill="#2d7a2d" stroke="#b8e0b0" stroke-width="1"/>
<path d="M94 1305 h12 M32 1386 h12 M154 1386 h12" stroke="#2d5a2d" stroke-width="1.2"/>
<path d="M94 1360 h12 M90 1335 h20 M92 1340 h16 M62 1375 h16 M64 1380 h12 M122 1375 h16 M124 1380 h12" stroke="#9ccc9c" stroke-width="0.9"/>
<path class="s" d="M118 1302 h26 M118 1307 h20 M18 1353 h20 M18 1358 h16 M148 1353 h26 M148 1358 h24 M80 1396 h40 M82 1401 h36"/>
</g>

<g id="gorelova">
<path d="M284 1352 Q260 1330 248 1322" fill="none" stroke="#4aa0d8" stroke-width="1.6"/>
<path d="M284 1360 Q256 1366 250 1356" fill="none" stroke="#4aa0d8" stroke-width="1.4"/>
<path d="M286 1366 Q262 1390 250 1388" fill="none" stroke="#5aba4a" stroke-width="1.6"/>
<path d="M312 1348 Q326 1325 350 1322" fill="none" stroke="#c03030" stroke-width="1.8"/>
<path d="M313 1354 Q340 1345 352 1318" fill="none" stroke="#8a2020" stroke-width="1.2"/>
<path d="M312 1366 Q330 1385 352 1382" fill="none" stroke="#e89a30" stroke-width="1.8"/>
<circle cx="298" cy="1358" r="15" fill="#fff" stroke="#999" stroke-width="0.7"/>
<path class="sd" d="M290 1354 h16 M290 1358 h16 M292 1362 h12"/>
<g fill="#fff" stroke-width="0.7"><rect x="232" y="1305" width="18" height="14" stroke="#4aa0d8"/><rect x="232" y="1345" width="18" height="14" stroke="#4aa0d8"/><rect x="232" y="1382" width="18" height="14" stroke="#5aba4a"/><rect x="262" y="1316" width="26" height="12" stroke="#4aa0d8"/><rect x="268" y="1384" width="28" height="11" stroke="#5aba4a"/><rect x="318" y="1314" width="28" height="12" stroke="#5aba4a"/><rect x="360" y="1302" width="16" height="18" stroke="#4aa0d8"/><rect x="360" y="1325" width="16" height="18" stroke="#4aa0d8"/><rect x="360" y="1350" width="16" height="14" stroke="#e89a30"/><rect x="360" y="1372" width="16" height="14" stroke="#e89a30"/><rect x="320" y="1378" width="28" height="10" stroke="#e89a30"/></g>
<g fill="#b89060"><rect x="236" y="1308" width="8" height="8"/><rect x="236" y="1348" width="8" height="8" fill="#e8c040"/><rect x="236" y="1385" width="8" height="8" fill="#6a8ab0"/><rect x="266" y="1318" width="6" height="8" fill="#4a6a8a"/><rect x="272" y="1386" width="8" height="7" fill="#c09020"/><rect x="321" y="1316" width="6" height="8" fill="#6a8a3a"/><rect x="363" y="1306" width="8" height="10"/><rect x="363" y="1329" width="8" height="10" fill="#5a4a8a"/><rect x="364" y="1352" width="7" height="9" fill="#8ab0d0"/><rect x="364" y="1375" width="7" height="9" fill="#a05020"/><rect x="323" y="1380" width="6" height="6" fill="#8a6a3a"/></g>
<path class="s" d="M212 1308 h14 M212 1313 h12 M212 1348 h14 M212 1352 h12 M212 1385 h14 M212 1389 h12 M378 1308 h10 M378 1312 h8 M378 1330 h10 M378 1354 h10 M378 1378 h10"/>
</g>

<g id="osterwalder2014">
<rect x="403" y="1298" width="184" height="109" fill="#eee"/>
<rect x="410" y="1303" width="82" height="82" fill="#fff" stroke="#555" stroke-width="1.5"/>
<path class="lt" d="M410 1303 L492 1385 M492 1303 L410 1385 M492 1344 H498"/>
<circle cx="541" cy="1345" r="44" fill="#fff" stroke="#555" stroke-width="1.5"/>
<path class="lt" d="M510 1314 L572 1376 M572 1314 L510 1376 M497 1345 H585"/>
<rect x="444" y="1333" width="12" height="22" fill="#fff" stroke="#333" stroke-width="1"/>
<path d="M534 1340 l7 -6 l7 6 v10 l-7 6 l-7 -6z" fill="#fff" stroke="#333" stroke-width="1"/>
<rect x="413" y="1330" width="6" height="6" fill="#222"/>
<path class="s" d="M420 1310 h18 M420 1315 h14 M420 1360 h16 M420 1365 h14 M460 1320 h16 M460 1370 h18 M515 1305 h14 M515 1325 h14 M555 1325 h14 M515 1360 h14 M555 1360 h14 M420 1395 h80 M470 1400 h40"/>
</g>

<g id="tauscher">
<path class="ln" d="M620 1310 Q660 1290 700 1305 Q740 1320 745 1360 Q740 1395 700 1400 M640 1330 Q700 1300 720 1340 Q720 1380 680 1385 Q640 1380 650 1350 M610 1320 Q595 1360 625 1395 M700 1310 Q760 1330 760 1390 M660 1300 Q700 1330 710 1370 M640 1350 Q660 1390 700 1400"/>
<path class="sd" d="M620 1295 h12 M665 1290 h14 M700 1318 h16 M720 1340 h14 M602 1340 h12 M648 1340 h12 M660 1365 h14 M655 1375 h12 M690 1380 h10 M740 1385 h12 M615 1400 h12"/>
<path d="M618 1318 l3 -4 l3 4 M680 1322 l3 -4 l3 4 M700 1372 l3 -4 l3 4" fill="none" stroke="#333" stroke-width="0.6"/>
</g>

<g id="groesser">
<path d="M860 1330 Q900 1310 930 1345 Q940 1385 900 1395 Q860 1400 850 1370 M880 1340 Q920 1330 920 1370 Q900 1390 870 1380" fill="none" stroke="#8a9ad8" stroke-width="0.8"/>
<path class="ln" d="M884 1296 V1370 M860 1310 H910 M820 1325 L860 1330 M905 1340 H940 M940 1300 V1340 M830 1345 H870 M870 1360 V1395 M895 1380 H935 M850 1395 H930 M820 1380 V1400"/>
<path class="sd" d="M875 1296 h18 M870 1320 h12 M842 1322 h14 M815 1338 h16 M812 1345 h20 M880 1352 h14 M910 1330 h14 M935 1310 h10 M935 1320 h10 M900 1370 h12 M860 1380 h14 M830 1385 h14 M900 1385 h12 M830 1398 h14 M905 1400 h12"/>
<rect class="bx" x="876" y="1356" width="16" height="12"/>
<rect class="bx" x="822" y="1332" width="22" height="8"/>
</g>
</svg>
